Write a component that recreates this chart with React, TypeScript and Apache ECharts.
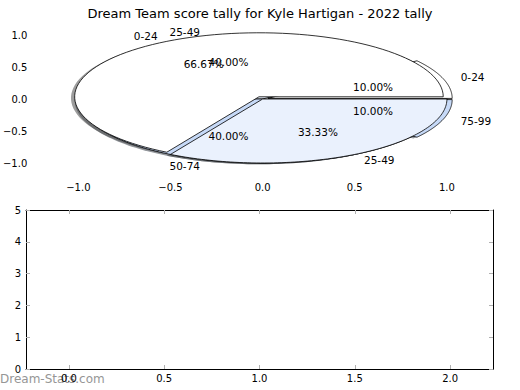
import React, { useEffect, useRef } from "react";
import * as echarts from "echarts";

const titleText = "Dream Team score tally for Kyle Hartigan - 2022 tally";
const categories = ["0-24", "25-49", "50-74", "75-99"];
const sliceColors = ["#ffffff", "#eaf1fd", "#c6d9f7", "#c6d9f7"];

// first pie (drawn on top)
const pieACats = [0, 1];
const pieAValues = [2, 1];
const pieAExplode = [0.04, 0];

// second pie (drawn underneath)
const pieBCats = [0, 1, 2, 3];
const pieBValues = [1, 4, 4, 1];
const pieBExplode = [0.03, 0, 0, 0.03];

const pieTicks = [-1, -0.5, 0, 0.5, 1];
const bottomXTicks = [0, 0.5, 1, 1.5, 2];

const FONT = "DejaVu Sans";

type Wedge = { start: number; end: number; ex: number; cat: number; pct: number };

function buildWedges(cats: number[], values: number[], explode: number[]): Wedge[] {
  const total = values.reduce((a, b) => a + b, 0);
  let acc = 0;
  return values.map((v, i) => {
    const start = (acc / total) * 360;
    acc += v;
    const end = (acc / total) * 360;
    return { start, end, ex: explode[i], cat: cats[i], pct: (v / total) * 100 };
  });
}

const wedgesB = buildWedges(pieBCats, pieBValues, pieBExplode);
const wedgesA = buildWedges(pieACats, pieAValues, pieAExplode);
const allWedges = [...wedgesB, ...wedgesA];

function wedgePoints(api: any, w: Wedge, ox: number, oy: number) {
  const mid = ((w.start + w.end) / 2) * Math.PI / 180;
  const cx = w.ex * Math.cos(mid) + ox;
  const cy = w.ex * Math.sin(mid) + oy;
  const pts: number[][] = [api.coord([cx, cy])];
  const n = 90;
  for (let k = 0; k <= n; k++) {
    const t = (w.start + ((w.end - w.start) * k) / n) * Math.PI / 180;
    pts.push(api.coord([cx + Math.cos(t), cy + Math.sin(t)]));
  }
  return pts;
}

function darken(hex: string) {
  const r = parseInt(hex.slice(1, 3), 16) * 0.3;
  const g = parseInt(hex.slice(3, 5), 16) * 0.3;
  const b = parseInt(hex.slice(5, 7), 16) * 0.3;
  return `rgba(${Math.round(r)},${Math.round(g)},${Math.round(b)},0.55)`;
}

export default function App() {
  const ref = useRef<HTMLDivElement>(null);
  useEffect(() => {
    if (!ref.current) return;
    const chart = echarts.init(ref.current, undefined, { renderer: "svg" });
    const tickStyle = { show: true, inside: true, length: 4, lineStyle: { color: "#b0b0b0", width: 1 } };
    const fmt = (v: number) => (v < 0 ? "\u2212" : "") + Math.abs(v).toFixed(1);
    const labelStyle = { color: "#000", fontFamily: FONT, fontSize: 10 };
    const wedgeData = allWedges.map((w, i) => [w.start, w.end, i]);

    chart.setOption({
      animation: false,
      title: {
        text: titleText,
        left: "center",
        top: 2,
        textStyle: { fontFamily: FONT, fontSize: 13, fontWeight: "normal", color: "#000" },
      },
      grid: [
        { left: 26, top: 19, width: 467, height: 160 },
        { left: 26, top: 210, width: 467, height: 159 },
      ],
      xAxis: [
        {
          gridIndex: 0, type: "value", min: -1.25, max: 1.25, position: "bottom",
          axisLine: { show: false }, splitLine: { show: false },
          axisTick: { ...tickStyle, customValues: pieTicks },
          axisLabel: { ...labelStyle, customValues: pieTicks, formatter: fmt, margin: 3 },
        },
        {
          gridIndex: 0, type: "value", min: -1.25, max: 1.25, position: "top",
          axisLine: { show: false }, splitLine: { show: false },
          axisTick: { ...tickStyle, customValues: pieTicks },
          axisLabel: { show: false, customValues: pieTicks },
        },
        {
          gridIndex: 1, type: "value", min: -0.225, max: 2.225, position: "bottom",
          axisLine: { show: true, onZero: false, lineStyle: { color: "#000", width: 1 } },
          splitLine: { show: false },
          axisTick: { ...tickStyle, customValues: bottomXTicks },
          axisLabel: { ...labelStyle, customValues: bottomXTicks, formatter: fmt, margin: 4 },
        },
        {
          gridIndex: 1, type: "value", min: -0.225, max: 2.225, position: "top",
          axisLine: { show: true, onZero: false, lineStyle: { color: "#000", width: 1 } },
          splitLine: { show: false },
          axisTick: { ...tickStyle, customValues: bottomXTicks },
          axisLabel: { show: false, customValues: bottomXTicks },
        },
      ],
      yAxis: [
        {
          gridIndex: 0, type: "value", min: -1.25, max: 1.25, position: "left",
          axisLine: { show: false }, splitLine: { show: false },
          axisTick: { ...tickStyle, customValues: pieTicks },
          axisLabel: { ...labelStyle, customValues: pieTicks, formatter: fmt, margin: 5 },
        },
        {
          gridIndex: 0, type: "value", min: -1.25, max: 1.25, position: "right",
          axisLine: { show: false }, splitLine: { show: false },
          axisTick: { ...tickStyle, customValues: pieTicks },
          axisLabel: { show: false, customValues: pieTicks },
        },
        {
          gridIndex: 1, type: "value", min: 0, max: 5, interval: 1, position: "left",
          axisLine: { show: true, onZero: false, lineStyle: { color: "#000", width: 1 } },
          splitLine: { show: false },
          axisTick: tickStyle,
          axisLabel: { ...labelStyle, margin: 5 },
        },
        {
          gridIndex: 1, type: "value", min: 0, max: 5, interval: 1, position: "right",
          axisLine: { show: true, onZero: false, lineStyle: { color: "#000", width: 1 } },
          splitLine: { show: false },
          axisTick: tickStyle,
          axisLabel: { show: false },
        },
      ],
      series: [
        {
          type: "custom",
          name: "shadow",
          xAxisIndex: 0, yAxisIndex: 0,
          clip: false, z: 1,
          silent: true,
          data: wedgeData,
          renderItem: (params: any, api: any) => {
            const w = allWedges[api.value(2)];
            return {
              type: "polygon",
              shape: { points: wedgePoints(api, w, -0.02, -0.02) },
              style: { fill: darken(sliceColors[w.cat]), stroke: "none" },
            };
          },
        },
        {
          type: "custom",
          name: "wedges",
          xAxisIndex: 0, yAxisIndex: 0,
          clip: false, z: 2,
          silent: true,
          data: wedgeData,
          renderItem: (params: any, api: any) => {
            const w = allWedges[api.value(2)];
            return {
              type: "polygon",
              shape: { points: wedgePoints(api, w, 0, 0) },
              style: { fill: sliceColors[w.cat], stroke: "#000", lineWidth: 0.8 },
            };
          },
        },
        {
          type: "custom",
          name: "labels",
          xAxisIndex: 0, yAxisIndex: 0,
          clip: false, z: 3,
          silent: true,
          data: wedgeData,
          renderItem: (params: any, api: any) => {
            const w = allWedges[api.value(2)];
            const mid = ((w.start + w.end) / 2) * Math.PI / 180;
            const cx = w.ex * Math.cos(mid);
            const cy = w.ex * Math.sin(mid);
            const lx = cx + 1.1 * Math.cos(mid);
            const ly = cy + 1.1 * Math.sin(mid);
            const px = cx + 0.6 * Math.cos(mid);
            const py = cy + 0.6 * Math.sin(mid);
            const lp = api.coord([lx, ly]);
            const pp = api.coord([px, py]);
            return {
              type: "group",
              children: [
                {
                  type: "text",
                  x: lp[0], y: lp[1],
                  style: {
                    text: categories[w.cat], fill: "#000", fontFamily: FONT, fontSize: 10.5,
                    align: lx < 0 ? "right" : "left", verticalAlign: "middle",
                  },
                },
                {
                  type: "text",
                  x: pp[0], y: pp[1],
                  style: {
                    text: w.pct.toFixed(2) + "%", fill: "#000", fontFamily: FONT, fontSize: 10.5,
                    align: "center", verticalAlign: "middle",
                  },
                },
              ],
            };
          },
        },
        {
          type: "line",
          xAxisIndex: 2, yAxisIndex: 2,
          data: [],
        },
      ],
      graphic: [
        {
          type: "text",
          left: 0,
          top: 373,
          z: -1,
          style: { text: "Dream-Stats.com", fill: "#969696", fontFamily: FONT, fontSize: 12, fontWeight: "normal" },
        },
      ],
    });
    return () => chart.dispose();
  }, []);
  return (
    <div style={{ position: "absolute", left: 0, top: 0, width: 520, height: 390, background: "#fff" }}>
      <div ref={ref} style={{ width: 520, height: 390 }} />
    </div>
  );
}
